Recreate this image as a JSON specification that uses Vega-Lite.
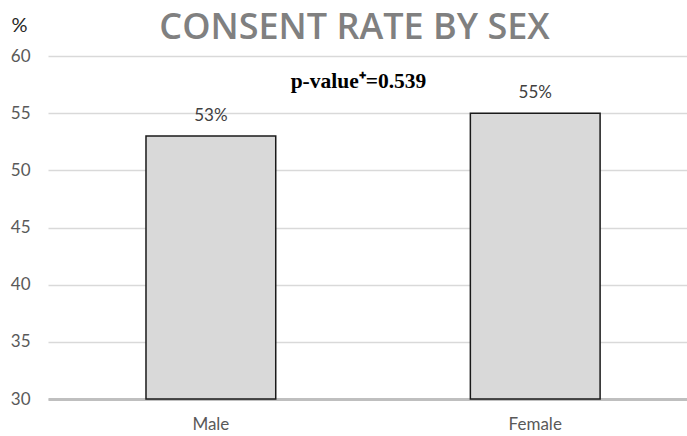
{
  "$schema": "https://vega.github.io/schema/vega-lite/v6.json",
  "autosize": "none",
  "width": 639,
  "height": 343,
  "padding": {"left": 48, "top": 56, "right": 0, "bottom": 37},
  "background": "white",
  "config": {
    "view": {"stroke": null},
    "font": "Lato"
  },
  "title": {
    "text": "CONSENT RATE BY SEX",
    "font": "Open Sans",
    "fontSize": 36,
    "fontWeight": 600,
    "color": "#808080",
    "anchor": "middle",
    "frame": "group",
    "baseline": "alphabetic",
    "offset": 0,
    "dy": 60,
    "dx": -13
  },
  "data": {
    "values": [
      {"sex": "Male", "rate": 53, "label": "53%"},
      {"sex": "Female", "rate": 55, "label": "55%"}
    ]
  },
  "encoding": {
    "x": {
      "field": "sex",
      "type": "nominal",
      "sort": ["Male", "Female"],
      "scale": {"paddingInner": 0.6, "paddingOuter": 0.285, "align": 0.53},
      "axis": {
        "title": null,
        "labelAngle": 0,
        "labelFont": "Lato",
        "labelFontSize": 17,
        "labelColor": "#595959",
        "labelPadding": 17,
        "ticks": false,
        "domainColor": "#bfbfbf",
        "domainWidth": 3
      }
    },
    "y": {
      "field": "rate",
      "type": "quantitative",
      "scale": {"domain": [30, 60], "zero": false, "nice": false},
      "axis": {
        "title": "%",
        "titleAngle": 0,
        "titleFont": "Lato",
        "titleFontSize": 20,
        "titleFontWeight": "normal",
        "titleColor": "#262626",
        "titleAlign": "center",
        "titleBaseline": "middle",
        "titleX": -29,
        "titleY": -31,
        "values": [30, 35, 40, 45, 50, 55, 60],
        "labelFont": "Lato",
        "labelFontSize": 17,
        "labelColor": "#595959",
        "labelPadding": 18,
        "ticks": false,
        "domain": false,
        "gridColor": "#d9d9d9",
        "gridWidth": 1.5
      }
    }
  },
  "layer": [
    {
      "mark": {"type": "bar", "fill": "#d9d9d9", "stroke": "#1a1a1a", "strokeWidth": 1.5},
      "encoding": {"y2": {"datum": 30}}
    },
    {
      "mark": {"type": "text", "baseline": "middle", "dy": -20, "fontSize": 17, "color": "#404040", "font": "Lato"},
      "encoding": {"text": {"field": "label"}}
    },
    {
      "data": {"values": [{"note": "p-value⁺=0.539", "pos": 57.7}]},
      "mark": {"type": "text", "font": "Liberation Serif", "fontWeight": "bold", "fontSize": 21.5, "color": "#000000", "baseline": "middle", "dx": -9},
      "encoding": {
        "x": null,
        "y": {"field": "pos", "type": "quantitative"},
        "text": {"field": "note"}
      }
    }
  ]
}
